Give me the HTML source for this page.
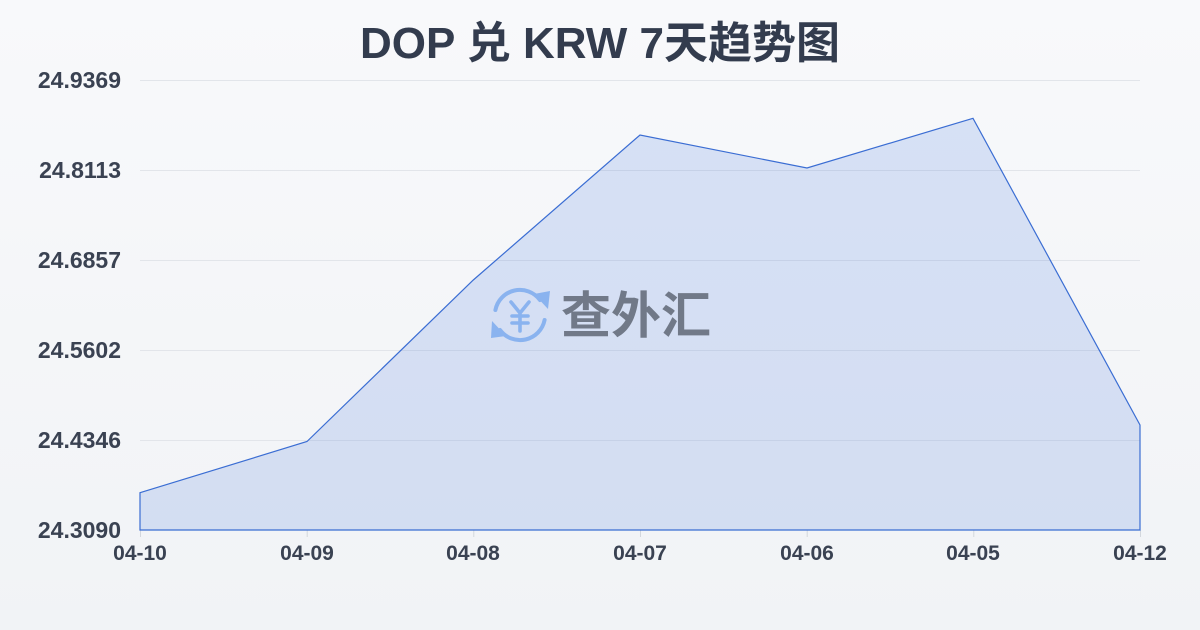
<!DOCTYPE html>
<html>
<head>
<meta charset="utf-8">
<style>
  html,body{margin:0;padding:0;}
  body{width:1200px;height:630px;overflow:hidden;}
  svg{display:block;}
  text{font-family:"Liberation Sans","Noto Sans CJK SC",sans-serif;font-weight:bold;}
</style>
</head>
<body>
<svg width="1200" height="630" viewBox="0 0 1200 630" xmlns="http://www.w3.org/2000/svg">
  <defs>
    <linearGradient id="bg" x1="0" y1="0" x2="0" y2="1">
      <stop offset="0" stop-color="#f8f9fb"/>
      <stop offset="1" stop-color="#f1f3f6"/>
    </linearGradient>
  </defs>
  <rect x="0" y="0" width="1200" height="630" fill="url(#bg)"/>

  <!-- title -->
  <text x="600" y="58" text-anchor="middle" font-size="44" fill="#333c4e">DOP 兑 KRW 7天趋势图</text>

  <!-- gridlines -->
  <g stroke="#e2e5ea" stroke-width="1">
    <line x1="140" y1="80.5" x2="1140" y2="80.5"/>
    <line x1="140" y1="170.5" x2="1140" y2="170.5"/>
    <line x1="140" y1="260.5" x2="1140" y2="260.5"/>
    <line x1="140" y1="350.5" x2="1140" y2="350.5"/>
    <line x1="140" y1="440.5" x2="1140" y2="440.5"/>
  </g>

  <!-- x ticks -->
  <g stroke="#d3d7dd" stroke-width="1">
    <line x1="140.5" y1="530" x2="140.5" y2="537"/>
    <line x1="307.2" y1="530" x2="307.2" y2="537"/>
    <line x1="473.8" y1="530" x2="473.8" y2="537"/>
    <line x1="640.5" y1="530" x2="640.5" y2="537"/>
    <line x1="807.2" y1="530" x2="807.2" y2="537"/>
    <line x1="973.8" y1="530" x2="973.8" y2="537"/>
    <line x1="1140.5" y1="530" x2="1140.5" y2="537"/>
  </g>

  <!-- area -->
  <polygon points="140,492.7 307,441.5 473.3,280 640,135 807,168 973,118.3 1140,425 1140,530 140,530"
    fill="rgba(58,110,220,0.17)" stroke="#3a6dd3" stroke-width="1.2" stroke-linejoin="miter"/>

  <!-- watermark -->
  <g fill="none" stroke="#8ab3ef" stroke-width="4" stroke-linecap="round">
    <path d="M 495.4 310 A 25 25 0 0 1 540 300"/>
    <path d="M 544.6 320 A 25 25 0 0 1 500 330"/>
    <path d="M 511 302 L 520 313 L 529 302 M 520 313 L 520 331 M 512 316 L 528 316 M 512 323 L 528 323" stroke-width="3.6"/>
  </g>
  <g fill="#8ab3ef">
    <polygon points="534,294 550,291 548,309"/>
    <polygon points="491,338 506,336 492,321"/>
  </g>
  <text x="636" y="333" text-anchor="middle" font-size="50" fill="#6c7483" opacity="0.95">查外汇</text>

  <!-- y labels -->
  <g font-size="23" fill="#3a4252" text-anchor="end">
    <text x="121" y="88">24.9369</text>
    <text x="121" y="178">24.8113</text>
    <text x="121" y="268">24.6857</text>
    <text x="121" y="358">24.5602</text>
    <text x="121" y="448">24.4346</text>
    <text x="121" y="538">24.3090</text>
  </g>

  <!-- x labels -->
  <g font-size="21" fill="#3a4252" text-anchor="middle">
    <text x="140" y="560">04-10</text>
    <text x="307" y="560">04-09</text>
    <text x="473" y="560">04-08</text>
    <text x="640" y="560">04-07</text>
    <text x="807" y="560">04-06</text>
    <text x="973" y="560">04-05</text>
    <text x="1140" y="560">04-12</text>
  </g>
</svg>
</body>
</html>
